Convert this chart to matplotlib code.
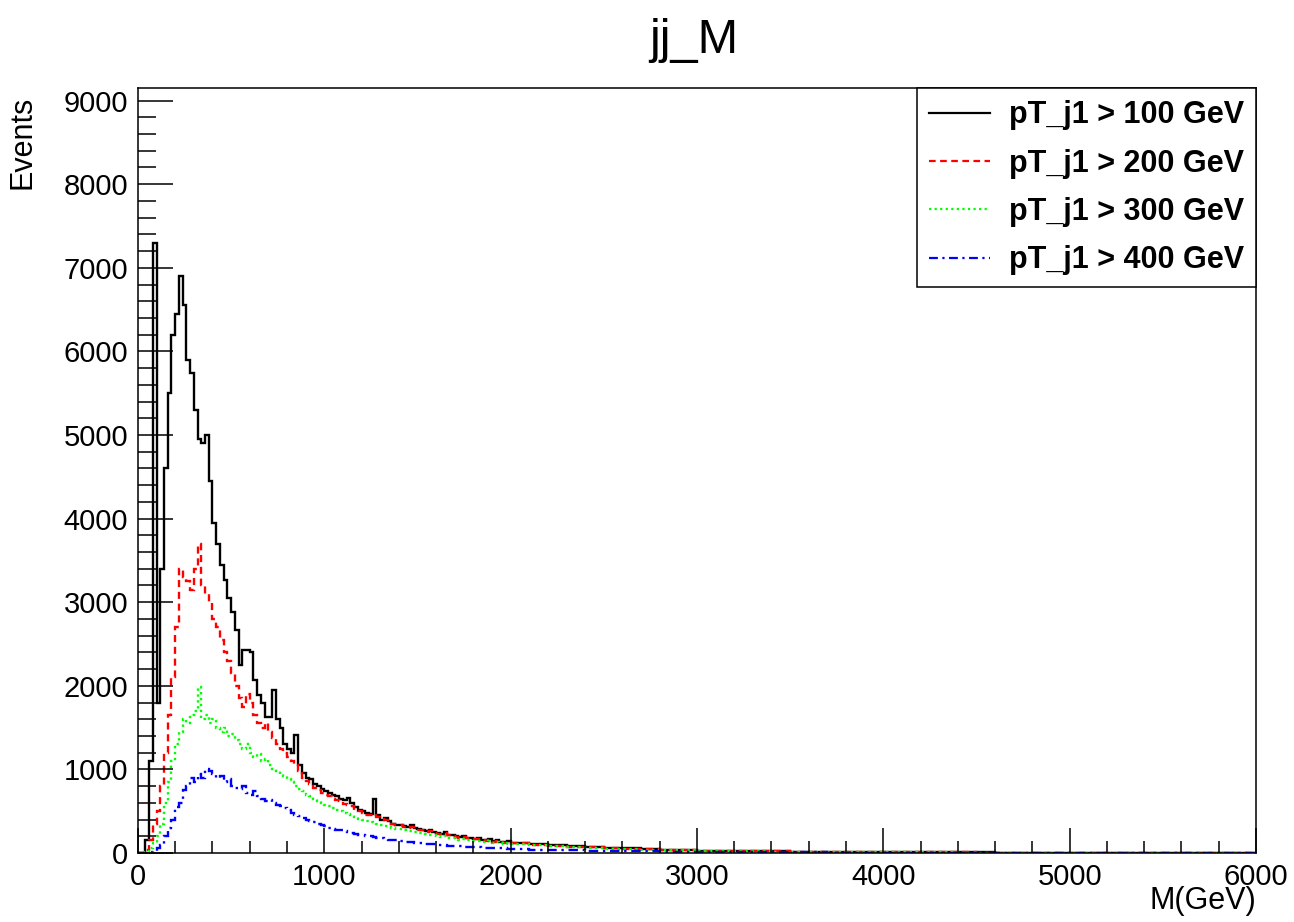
import numpy as np
import matplotlib.pyplot as plt
from matplotlib.lines import Line2D
from matplotlib.ticker import MultipleLocator

plt.rcParams['font.family'] = ['Liberation Sans', 'DejaVu Sans']

# bin edges: 20 GeV bins up to 2 TeV, 100 GeV bins in the tail
edges = np.concatenate([np.arange(0, 2000, 20), np.arange(2000, 6001, 100)])

labels = ['pT_j1 > 100 GeV', 'pT_j1 > 200 GeV', 'pT_j1 > 300 GeV', 'pT_j1 > 400 GeV']

# pT_j1 > 100 GeV
black_core = [0, 0, 150, 1100, 7300, 1800, 3400, 4600, 5500, 6200,
              6450, 6900, 6550, 5900, 5740, 5300, 4950, 4900, 5000, 4450,
              3950, 3700, 3440, 3270, 3050, 2880, 2670, 2250, 2430, 2430,
              2400, 2070, 1890, 1800, 1630, 1630, 1950, 1600, 1500, 1300,
              1250, 1200, 1410, 1050, 960, 900, 880, 830, 800, 760,
              740, 720, 700, 680, 650, 640, 660, 600, 550, 520,
              500, 480, 470, 650, 450, 400, 420, 380, 350, 330,
              340, 320, 310, 330, 300, 290, 280, 260, 270, 250,
              240, 230, 250, 220, 210, 200, 190, 200, 180, 175,
              170, 180, 160, 150, 165, 140, 150, 135, 130, 140]
black_tail = [120, 105, 95, 80, 70, 60, 55, 45, 40, 35,
              30, 28, 25, 22, 20, 18, 16, 15, 13, 12,
              11, 10, 9, 8, 8, 7, 6, 6, 5, 5,
              4, 4, 4, 3, 3, 3, 2, 2, 2, 2]

# pT_j1 > 200 GeV
red_core = [0, 0, 40, 150, 350, 500, 800, 1200, 1650, 2100,
            2700, 3400, 3300, 3250, 3150, 3400, 3700, 3200, 3100, 3000,
            2800, 2700, 2550, 2400, 2300, 2150, 2000, 1850, 1750, 1900,
            1800, 1650, 1550, 1500, 1550, 1450, 1380, 1300, 1250, 1200,
            1150, 1100, 1050, 980, 900, 860, 820, 780, 750, 720,
            700, 680, 650, 640, 620, 590, 570, 560, 520, 500,
            480, 460, 450, 470, 430, 410, 390, 370, 350, 340,
            330, 310, 300, 310, 290, 280, 270, 255, 260, 240,
            230, 225, 235, 210, 205, 195, 185, 190, 175, 170,
            165, 170, 155, 145, 160, 135, 145, 130, 125, 135]
red_tail = [115, 100, 90, 78, 68, 58, 52, 44, 38, 33,
            29, 27, 24, 21, 19, 17, 15, 14, 12, 11,
            10, 9, 8, 8, 7, 6, 6, 5, 5, 4,
            4, 3, 3, 3, 3, 2, 2, 2, 2, 1]

# pT_j1 > 300 GeV
green_core = [0, 0, 10, 60, 120, 200, 350, 600, 850, 1100,
              1300, 1450, 1600, 1550, 1650, 1700, 1980, 1600, 1650, 1550,
              1600, 1500, 1450, 1500, 1400, 1420, 1350, 1300, 1250, 1300,
              1200, 1150, 1180, 1100, 1120, 1050, 1000, 980, 950, 920,
              880, 850, 800, 760, 740, 700, 680, 650, 620, 600,
              580, 560, 540, 520, 500, 480, 470, 450, 430, 410,
              400, 380, 370, 360, 345, 330, 320, 310, 300, 290,
              285, 275, 265, 260, 250, 240, 235, 225, 220, 210,
              200, 195, 200, 180, 175, 170, 160, 165, 150, 145,
              140, 145, 135, 130, 140, 120, 128, 118, 112, 120]
green_tail = [105, 92, 84, 72, 62, 54, 48, 41, 36, 31,
              27, 25, 22, 20, 18, 16, 14, 13, 11, 10,
              9, 8, 8, 7, 6, 6, 5, 5, 4, 4,
              3, 3, 3, 2, 2, 2, 2, 2, 1, 1]

# pT_j1 > 400 GeV
blue_core = [0, 0, 0, 10, 30, 60, 100, 200, 300, 400,
             550, 600, 750, 800, 900, 850, 950, 900, 1000, 980,
             950, 900, 920, 850, 880, 800, 780, 760, 800, 720,
             700, 740, 680, 650, 620, 640, 600, 580, 560, 540,
             520, 480, 460, 440, 420, 400, 380, 370, 350, 330,
             320, 300, 290, 280, 270, 260, 250, 240, 230, 220,
             210, 205, 200, 190, 180, 175, 165, 160, 155, 150,
             145, 140, 135, 130, 125, 120, 115, 112, 108, 104,
             100, 96, 92, 90, 86, 82, 80, 78, 74, 72,
             70, 68, 66, 64, 62, 60, 58, 56, 55, 53]
blue_tail = [48, 42, 38, 33, 29, 25, 22, 19, 17, 15,
             13, 12, 11, 10, 9, 8, 7, 6, 6, 5,
             5, 4, 4, 4, 3, 3, 3, 2, 2, 2,
             2, 2, 1, 1, 1, 1, 1, 1, 1, 1]

series = [black_core + black_tail, red_core + red_tail,
          green_core + green_tail, blue_core + blue_tail]
colors = ['black', '#ff0000', '#00ff00', '#0000ff']
styles = ['-', (0, (3, 2)), (0, (1, 1.5)), (0, (4, 2, 1, 2))]

fig = plt.figure(figsize=(12.94, 9.22), dpi=100)
ax = fig.add_axes([0.1066, 0.0748, 0.8640, 0.8297])

handles = []
for vals, c, ls, lab in zip(series, colors, styles, labels):
    ax.stairs(vals, edges, color=c, linestyle=ls, linewidth=1.7)
    handles.append(Line2D([], [], color=c, linestyle=ls, linewidth=1.6, label=lab))

ax.set_xlim(0, 6000)
ax.set_ylim(0, 9150)

ax.xaxis.set_major_locator(MultipleLocator(1000))
ax.xaxis.set_minor_locator(MultipleLocator(200))
ax.yaxis.set_major_locator(MultipleLocator(1000))
ax.yaxis.set_minor_locator(MultipleLocator(200))
ax.tick_params(which='both', direction='in', top=False, right=False, width=1.1,
               labelsize=21, pad=7)
ax.tick_params(axis='y', which='major', length=25)
ax.tick_params(axis='y', which='minor', length=13)
ax.tick_params(axis='x', which='major', length=18)
ax.tick_params(axis='x', which='minor', length=9)
for s in ax.spines.values():
    s.set_linewidth(1.1)

ax.set_ylabel('Events', fontsize=22, loc='top')
ax.yaxis.set_label_coords(-0.09, 0.99)
ax.set_xlabel('M(GeV)', fontsize=22, loc='right')
ax.xaxis.set_label_coords(1.0, -0.043)

fig.text(0.536, 0.956, 'jj_M', ha='center', va='center', fontsize=35)

leg = ax.legend(handles=handles, loc='upper right', bbox_to_anchor=(1.0, 1.0),
                borderaxespad=0, fancybox=False, framealpha=1, edgecolor='black',
                prop={'weight': 'bold', 'size': 22}, handlelength=2.0,
                handletextpad=0.6, labelspacing=0.6, borderpad=0.4)
leg.get_frame().set_linewidth(1.1)

fig.savefig('out.png', dpi=100)
